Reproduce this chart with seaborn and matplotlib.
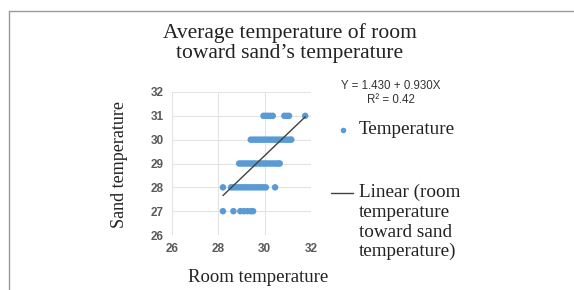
import numpy as np
import pandas as pd
import matplotlib
matplotlib.use("Agg")
import matplotlib.pyplot as plt
from matplotlib.lines import Line2D
import seaborn as sns

# room temperature readings grouped by the (integer) sand temperature they go with
room_at_27 = [28.2, 28.65, 28.95, 29.1, 29.25, 29.4, 29.5]
room_at_28 = [28.2, 28.55, 28.65, 28.75, 28.85, 28.95, 29.05, 29.15, 29.25, 29.35,
              29.45, 29.55, 29.65, 29.75, 29.85, 29.95, 30.05, 30.45]
room_at_29 = [28.9, 29.0, 29.1, 29.2, 29.3, 29.4, 29.5, 29.6, 29.7, 29.8, 29.9,
              30.0, 30.1, 30.2, 30.3, 30.4, 30.5, 30.6, 30.65]
room_at_30 = [29.4, 29.5, 29.6, 29.7, 29.8, 29.9, 30.0, 30.1, 30.2, 30.3, 30.4,
              30.5, 30.6, 30.7, 30.8, 30.9, 31.0, 31.1, 31.15]
room_at_31 = [29.95, 30.05, 30.15, 30.25, 30.35, 30.85, 30.95, 31.05, 31.75]

intercept, slope, r2 = 1.430, 0.930, 0.42

x_ticks = [26, 28, 30, 32]
y_ticks = [26, 27, 28, 29, 30, 31, 32]

rows = []
for sand, rooms in [(27, room_at_27), (28, room_at_28), (29, room_at_29),
                    (30, room_at_30), (31, room_at_31)]:
    rows += [(r, sand) for r in rooms]
df = pd.DataFrame(rows, columns=["room", "sand"])

BLUE = "#5B9BD5"
TICK = "#595959"

sns.set_style("white")
plt.rcParams["font.family"] = ["Liberation Serif", "DejaVu Serif"]

fig = plt.figure(figsize=(5.74, 2.90), dpi=100)
ax = fig.add_axes([172 / 574, 1 - 235 / 290, 139 / 574, 143 / 290])

sns.scatterplot(data=df, x="room", y="sand", ax=ax, color=BLUE, s=22,
                edgecolor="none", legend=False, zorder=3)

xs = np.array([df["room"].min(), df["room"].max()])
ax.plot(xs, intercept + slope * xs, color="#404040", lw=1.0, zorder=4)

ax.set_xlim(26, 32)
ax.set_ylim(26, 32)
ax.set_xticks(x_ticks)
ax.set_yticks(y_ticks)
ax.grid(True, color="#E3E3E3", lw=0.8)
ax.set_axisbelow(True)
for s in ax.spines.values():
    s.set_visible(False)
ax.tick_params(length=0, pad=6, labelsize=8.5, labelcolor=TICK)
for lab in ax.get_xticklabels() + ax.get_yticklabels():
    lab.set_fontfamily("Liberation Sans")
    lab.set_fontweight("bold")
ax.set_xlabel("")
ax.set_ylabel("")

fig.text(0.505, 1 - 43 / 290, "Average temperature of room\ntoward sand\u2019s temperature",
         ha="center", va="center", fontsize=15.5, color="#222222", linespacing=1.12)
fig.text(119 / 574, 1 - 165 / 290, "Sand temperature", rotation=90, ha="center",
         va="center", fontsize=13, color="#222222")
fig.text(258 / 574, 1 - 277 / 290, "Room temperature", ha="center", va="center",
         fontsize=13.5, color="#222222")

fig.text(391 / 574, 1 - 86 / 290, f"Y = {intercept:.3f} + {slope:.3f}X", ha="center",
         va="center", fontsize=8.3, family="Liberation Sans", color="#333333")
fig.text(391 / 574, 1 - 100 / 290, f"R\u00b2 = {r2:.2f}", ha="center", va="center",
         fontsize=8.3, family="Liberation Sans", color="#333333")

# legend, drawn by hand to match the spacing of the original
fig.add_artist(Line2D([343 / 574], [1 - 130 / 290], marker="o", color=BLUE, ms=4,
                      mec="none", ls="none"))
fig.text(359 / 574, 1 - 130 / 290, "Temperature", ha="left", va="center",
         fontsize=13.8, color="#222222")
fig.add_artist(Line2D([331 / 574, 353 / 574], [1 - 193 / 290] * 2, color="#404040", lw=1.0))
fig.text(359 / 574, 1 - 184 / 290,
         "Linear (room\ntemperature\ntoward sand\ntemperature)",
         ha="left", va="top", fontsize=13.8, color="#222222", linespacing=1.2)

# page frame
fig.add_artist(Line2D([9 / 574, 1], [1 - 11 / 290] * 2, color="#9A9A9A", lw=1.0))
fig.add_artist(Line2D([9 / 574] * 2, [0, 1 - 11 / 290], color="#9A9A9A", lw=1.0))

fig.savefig("out.png", dpi=100)
